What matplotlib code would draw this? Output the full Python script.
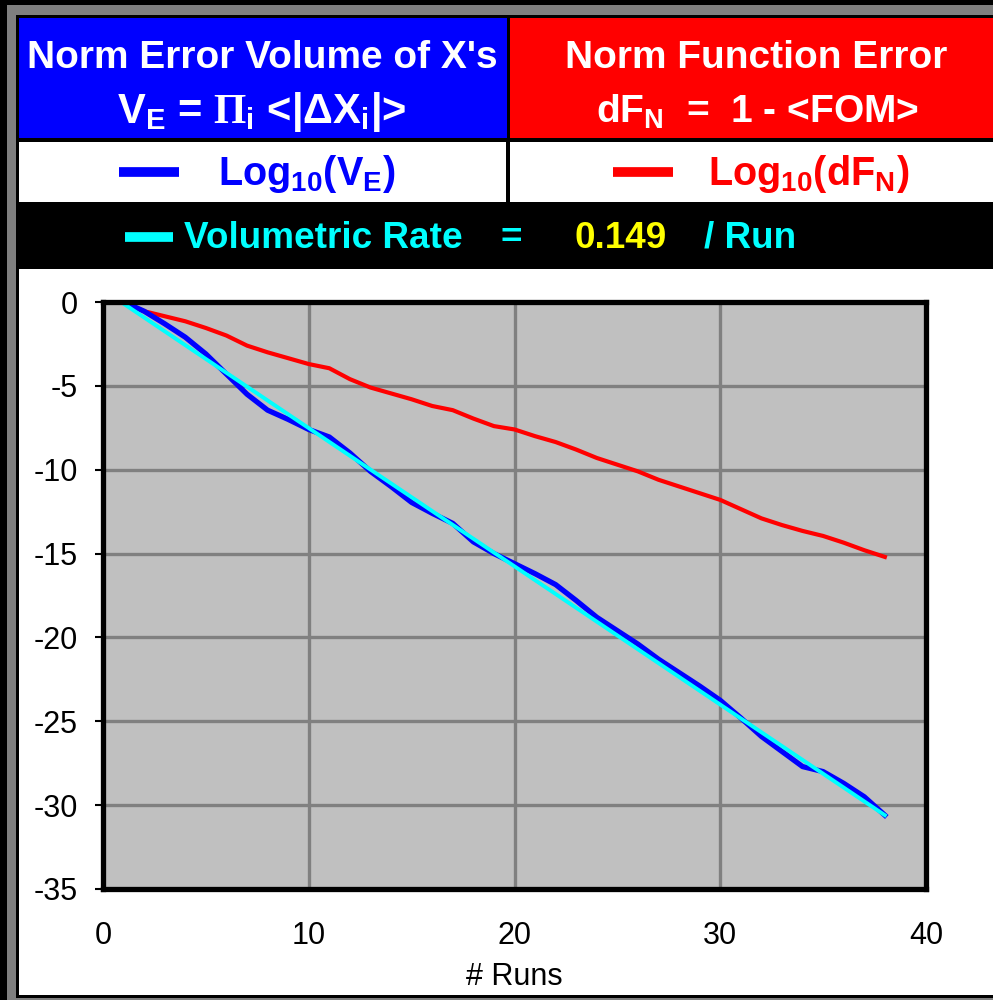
import matplotlib
matplotlib.use('Agg')
import matplotlib.pyplot as plt
from matplotlib.patches import Rectangle
from matplotlib.lines import Line2D

plt.rcParams['font.family'] = ['Liberation Sans', 'DejaVu Sans']
plt.rcParams['mathtext.fontset'] = 'custom'
plt.rcParams['mathtext.sf'] = 'Liberation Sans:bold'
plt.rcParams['mathtext.rm'] = 'Liberation Serif:bold'
plt.rcParams['mathtext.it'] = 'Liberation Sans:bold'
plt.rcParams['mathtext.bf'] = 'Liberation Sans:bold'
plt.rcParams['axes.unicode_minus'] = False

# ---------------- data ----------------
runs = list(range(1, 39))
log_ve = [0.0, -0.55, -1.3, -2.1, -3.1, -4.3, -5.5, -6.45, -7.0, -7.6,
          -8.05, -9.0, -10.1, -11.0, -11.95, -12.6, -13.2, -14.3, -15.0, -15.6,
          -16.2, -16.85, -17.8, -18.8, -19.6, -20.4, -21.3, -22.1, -22.9, -23.75,
          -24.8, -25.9, -26.8, -27.7, -28.0, -28.7, -29.5, -30.6]
log_dfn = [0.0, -0.55, -0.85, -1.15, -1.55, -2.0, -2.6, -3.0, -3.35, -3.7,
           -3.95, -4.6, -5.1, -5.45, -5.8, -6.2, -6.45, -6.95, -7.4, -7.6,
           -8.0, -8.35, -8.8, -9.3, -9.7, -10.1, -10.6, -11.0, -11.4, -11.8,
           -12.35, -12.9, -13.3, -13.65, -13.95, -14.35, -14.8, -15.2]
fit_runs = [1, 38]
fit_vals = [-0.1, -30.6]
rate_value = "0.149"
x_ticks = [0, 10, 20, 30, 40]
y_ticks = [0, -5, -10, -15, -20, -25, -30, -35]
x_label = "# Runs"

# ---------------- figure ----------------
W, H = 993, 1000
fig = plt.figure(figsize=(W / 100, H / 100), dpi=100, facecolor='black')


def rect(x0, y0, x1, y1, color):
    fig.add_artist(Rectangle((x0 / W, 1 - y1 / H), (x1 - x0) / W, (y1 - y0) / H,
                             transform=fig.transFigure, facecolor=color,
                             edgecolor='none', zorder=0))


def ftext(x, y, s, **kw):
    fig.text(x / W, 1 - y / H, s, **kw)


def seg(x0, x1, y, color, lw):
    fig.add_artist(Line2D([x0 / W, x1 / W], [1 - y / H, 1 - y / H],
                          transform=fig.transFigure, color=color, lw=lw,
                          solid_capstyle='butt'))


# frame
rect(7, 5, W, H, '#7f7f7f')
rect(16, 15, W, 998, '#000000')
rect(19, 18, 507, 138, '#0000FF')
rect(510, 18, W, 138, '#FF0000')
rect(19, 142, 506, 202, '#FFFFFF')
rect(510, 142, W, 202, '#FFFFFF')
rect(19, 269, W, 995, '#FFFFFF')

hdr = dict(color='white', fontsize=28, fontweight='bold', ha='center', va='baseline')
ftext(262, 68, "Norm Error Volume of X's", **hdr)
ftext(262, 123, r"V$_\mathsf{E}$ = $\Pi_\mathsf{i}$ <|ΔX$_\mathsf{i}$|>",
      color='white', fontsize=30, fontweight='bold', ha='center', va='baseline')
ftext(756, 68, "Norm Function Error", **hdr)
ftext(757, 123, r"dF$_\mathsf{N}$  =  1 - <FOM>", **hdr)

# legend rows
seg(119, 179, 172, '#0000FF', 7)
ftext(218, 185, r"Log$_\mathsf{10}$(V$_\mathsf{E}$)", color='#0000FF', fontsize=28.5,
      fontweight='bold', ha='left', va='baseline')
seg(613, 673, 172, '#FF0000', 7)
ftext(708, 185, r"Log$_\mathsf{10}$(dF$_\mathsf{N}$)", color='#FF0000', fontsize=28.5,
      fontweight='bold', ha='left', va='baseline')

seg(125, 173, 237, '#00FFFF', 7)
rt = dict(fontsize=26.6, fontweight='bold', ha='left', va='baseline')
ftext(184, 248, "Volumetric Rate", color='#00FFFF', **rt)
ftext(500, 248, "=", color='#00FFFF', **rt)
ftext(575, 248, rate_value, color='#FFFF00', **rt)
ftext(704, 248, "/ Run", color='#00FFFF', **rt)

# ---------------- axes ----------------
ax = fig.add_axes([103 / W, 1 - 889 / H, (926 - 103) / W, (889 - 302) / H])
ax.set_facecolor('#C0C0C0')
ax.set_xlim(0, 40)
ax.set_ylim(-35, 0)
ax.set_xticks(x_ticks)
ax.set_yticks(y_ticks)
ax.grid(True, color='#808080', lw=2.4, zorder=1)
ax.set_axisbelow(True)

ax.plot(runs, log_dfn, color='#FF0000', lw=3.0, zorder=3)
ax.plot(runs, log_ve, color='#0000FF', lw=3.8, zorder=3)
ax.plot(fit_runs, fit_vals, color='#00FFFF', lw=2.8, zorder=4)

for sp in ax.spines.values():
    sp.set_linewidth(3.8)
    sp.set_color('black')
    sp.set_zorder(5)

ax.tick_params(axis='y', direction='out', length=6, width=1.5, pad=12,
               labelsize=22, colors='black')
ax.tick_params(axis='x', length=0, pad=23, labelsize=22, colors='black')
ax.set_xlabel(x_label, fontsize=22, labelpad=8)

fig.savefig('out.png', dpi=100, facecolor='black')
